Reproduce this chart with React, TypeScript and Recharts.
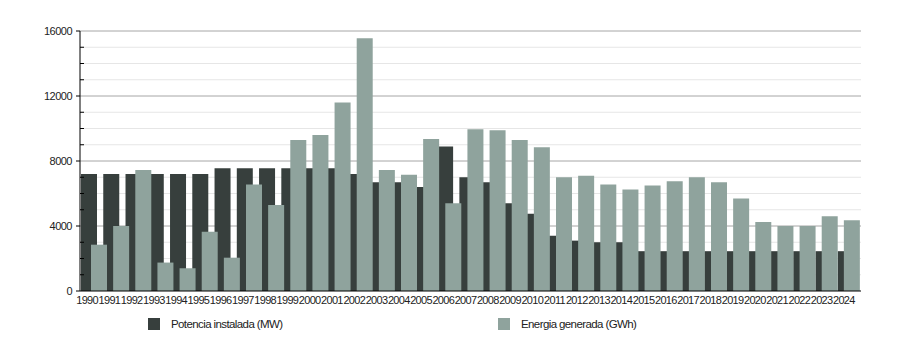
import { BarChart, Bar, XAxis, YAxis, CartesianGrid, Legend } from 'recharts';

const years = ['1990','1991','1992','1993','1994','1995','1996','1997','1998','1999','2000','2001','2002','2003','2004','2005','2006','2007','2008','2009','2010','2011','2012','2013','2014','2015','2016','2017','2018','2019','2020','2021','2022','2023','2024'];
const potencia = [7200,7200,7200,7200,7200,7200,7550,7550,7550,7550,7550,7550,7200,6700,6700,6400,8900,7000,6700,5400,4750,3400,3100,3000,3000,2450,2450,2450,2450,2450,2450,2450,2450,2450,2450];
const energia = [2850,4000,7450,1750,1400,3650,2050,6550,5300,9300,9600,11600,15550,7450,7150,9350,5400,9950,9900,9300,8850,7000,7100,6550,6250,6500,6750,7000,6700,5700,4250,4000,4000,4600,4350];
const yTicks = [0,1000,2000,3000,4000,5000,6000,7000,8000,9000,10000,11000,12000,13000,14000,15000,16000];
const majorTicks = [4000,8000,12000,16000];
const minorTicks = [1000,2000,3000,5000,6000,7000,9000,10000,11000,13000,14000,15000];
const labels = { potencia: 'Potencia instalada (MW)', energia: 'Energia generada (GWh)' };

const DARK = '#373f3d';
const LIGHT = '#8fa39d';
const FONT = '"Liberation Sans", Arial, sans-serif';

const data = years.map((y, i) => ({ year: y, potencia: potencia[i], energia: energia[i] }));

function YTick({ x, y, payload }: any) {
  const v = payload.value;
  const ax = x + 8;
  if (v % 4000 === 0) {
    return (
      <g>
        <line x1={ax - 4} x2={ax} y1={y} y2={y} stroke="#000" />
        <text x={x} y={y} dy="0.355em" textAnchor="end" fontSize={11} fill="#222" fontFamily={FONT} letterSpacing={-0.5}>{v}</text>
      </g>
    );
  }
  return <line x1={ax} x2={ax + 4} y1={y} y2={y} stroke="#000" />;
}

function XTick({ x, y, payload }: any) {
  return (
    <text x={x - 2} y={y} dy="0.71em" textAnchor="middle" fontSize={11} fill="#222" fontFamily={FONT} letterSpacing={-0.7}>{payload.value}</text>
  );
}

function LegendBox() {
  const item = (left: number, color: string, text: string) => (
    <div style={{ position: 'absolute', left, top: 7, display: 'flex', alignItems: 'center' }}>
      <div style={{ width: 12, height: 12, background: color }} />
      <span style={{ marginLeft: 11, fontSize: 11.5, letterSpacing: -0.6, color: '#222', fontFamily: FONT, lineHeight: '12px' }}>{text}</span>
    </div>
  );
  return (
    <div style={{ position: 'relative', width: 900, height: 30 }}>
      {item(148, DARK, labels.potencia)}
      {item(498, LIGHT, labels.energia)}
    </div>
  );
}

export default function App() {
  return (
    <div style={{ position: 'absolute', left: 0, top: 0, background: '#fff' }}>
      <BarChart width={900} height={350} data={data} margin={{ top: 31, right: 39, left: 0, bottom: 9 }}>
        <CartesianGrid vertical={false} horizontalValues={minorTicks} stroke="#e6e6e6" />
        <CartesianGrid vertical={false} horizontalValues={majorTicks} stroke="#a6a6a6" />
        <XAxis xAxisId="d" dataKey="year" height={20} padding={{ left: -2, right: 4 }} tick={<XTick />} tickLine={false} tickSize={0} tickMargin={5} interval={0} axisLine={{ stroke: '#000' }} />
        <XAxis xAxisId="l" dataKey="year" hide height={0} padding={{ left: 8, right: -2 }} />
        <YAxis width={80} domain={[0, 16000]} ticks={yTicks} interval={0} tick={<YTick />} tickLine={false} tickSize={4} tickMargin={4} axisLine={{ stroke: '#000' }} />
        <Legend content={<LegendBox />} verticalAlign="bottom" height={30} />
        <Bar xAxisId="d" dataKey="potencia" name={labels.potencia} fill={DARK} barSize={16} isAnimationActive={false} />
        <Bar xAxisId="l" dataKey="energia" name={labels.energia} fill={LIGHT} barSize={16} isAnimationActive={false} />
      </BarChart>
    </div>
  );
}
